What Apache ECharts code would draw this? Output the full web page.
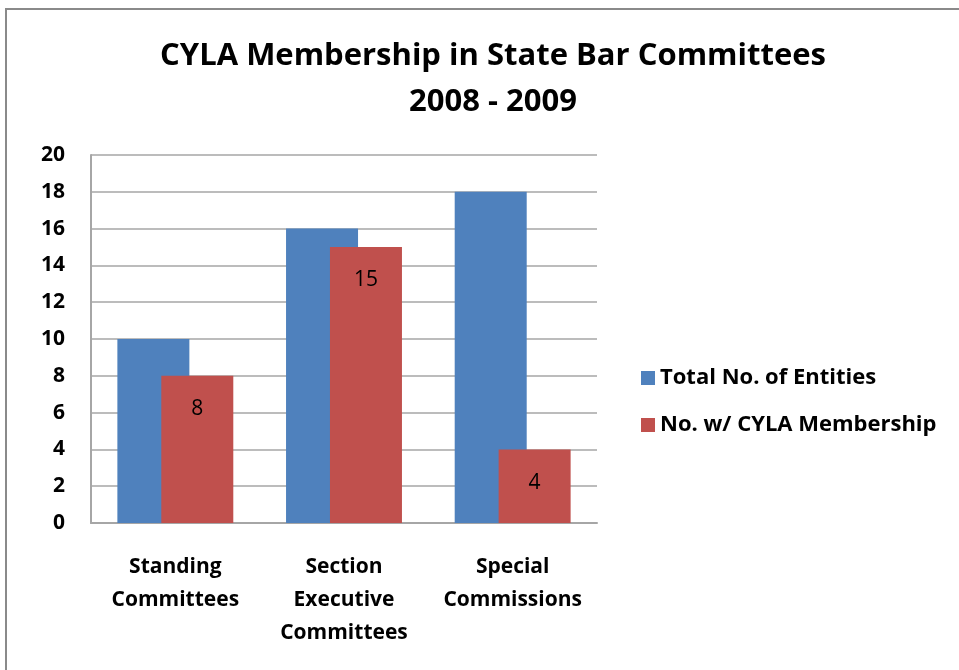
<!DOCTYPE html>
<html><head><meta charset="utf-8">
<script src="https://cdn.jsdelivr.net/npm/echarts@6/dist/echarts.min.js"></script>
<style>
html,body{margin:0;padding:0;background:#fff;}
#frame{position:absolute;left:5px;top:8px;width:960px;height:670px;border:2px solid #8a8a8a;box-sizing:border-box;}
#c{position:absolute;left:0;top:0;width:959px;height:670px;}
</style></head>
<body>
<div id="frame"></div>
<div id="c"></div>
<script>
var categories = ['Standing\nCommittees', 'Section\nExecutive\nCommittees', 'Special\nCommissions'];
var totalEntities = [10, 16, 18];
var cylaMembership = [8, 15, 4];
var seriesNames = ['Total No. of Entities', 'No. w/ CYLA Membership'];
var titleText = 'CYLA Membership in State Bar Committees\n2008 - 2009';

var font = 'Open Sans';
var chart = echarts.init(document.getElementById('c'), null, {renderer: 'canvas'});
chart.setOption({
  animation: false,
  title: {
    text: titleText,
    left: 488, top: 28, textAlign: 'center',
    textStyle: {fontFamily: font, fontWeight: 'bold', fontSize: 31, lineHeight: 46, color: '#000'}
  },
  legend: {
    orient: 'vertical', left: 636, top: 362, itemGap: 25,
    itemWidth: 14, itemHeight: 14, icon: 'rect',
    textStyle: {fontFamily: font, fontWeight: 'bold', fontSize: 22, color: '#000'},
    data: seriesNames
  },
  grid: {left: 91, top: 155, width: 506, height: 368},
  xAxis: {
    type: 'category', data: categories,
    axisLine: {lineStyle: {color: '#a6a6a6', width: 2}},
    axisTick: {show: false},
    axisLabel: {interval: 0, hideOverlap: false, fontFamily: font, fontWeight: 'bold', fontSize: 21, color: '#000', lineHeight: 33, margin: 28}
  },
  yAxis: {
    type: 'value', min: 0, max: 20, interval: 2,
    axisLine: {show: true, lineStyle: {color: '#a6a6a6', width: 2}},
    axisTick: {show: false},
    splitLine: {lineStyle: {color: '#a6a6a6', width: 1.5}},
    axisLabel: {fontFamily: font, fontWeight: 'bold', fontSize: 21, color: '#000', margin: 26}
  },
  series: [
    {name: seriesNames[0], type: 'bar', data: totalEntities, barWidth: 72, barGap: '-39%',
     itemStyle: {color: '#4F81BD'}},
    {name: seriesNames[1], type: 'bar', data: cylaMembership, barWidth: 72,
     itemStyle: {color: '#C0504D'},
     label: {show: true, position: 'insideTop', distance: 23, fontFamily: font, fontSize: 21, color: '#000'}}
  ]
});
</script>
</body></html>
